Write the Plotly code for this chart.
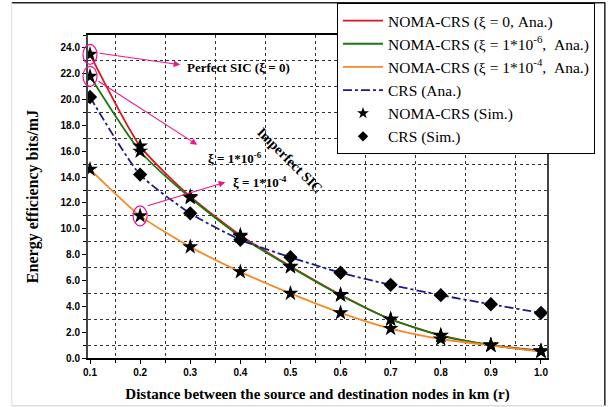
import plotly.graph_objects as go

# ---------------- data ----------------
distance = [0.1, 0.2, 0.3, 0.4, 0.5, 0.6, 0.7, 0.8, 0.9, 1.0]
noma_xi0 = [23.5, 16.4, 12.5, 9.5, 7.1, 4.9, 3.0, 1.75, 1.0, 0.55]
noma_xi6 = [21.8, 16.0, 12.4, 9.4, 7.05, 4.86, 3.0, 1.74, 1.0, 0.54]
noma_xi4 = [14.6, 11.0, 8.6, 6.67, 5.0, 3.5, 2.28, 1.47, 0.97, 0.5]
crs = [20.2, 14.2, 11.2, 9.15, 7.8, 6.6, 5.66, 4.86, 4.16, 3.49]
y_ticks = [0, 2, 4, 6, 8, 10, 12, 14, 16, 18, 20, 22, 24]
x_ticks = [0.1, 0.2, 0.3, 0.4, 0.5, 0.6, 0.7, 0.8, 0.9, 1.0]

XR = [0.096, 1.012]
YR = [0, 25]

SERIF = "Liberation Serif"
SANS = "Liberation Sans"
PINK = "#f0148c"

fig = go.Figure()

line_specs = [
    ("NOMA-CRS (ξ = 0, Ana.)", noma_xi0, "#e0141e", "solid"),
    ("NOMA-CRS (ξ = 1*10<sup>-6</sup>,\u00a0 Ana.)", noma_xi6, "#1a7a10", "solid"),
    ("NOMA-CRS (ξ = 1*10<sup>-4</sup>,\u00a0 Ana.)", noma_xi4, "#f58a28", "solid"),
    ("CRS (Ana.)", crs, "#1a1a8c", "dashdot"),
]
for name, ys, col, dash in line_specs:
    fig.add_trace(go.Scatter(
        x=distance, y=ys, mode="lines", name=name,
        line=dict(color=col, width=1.8, dash=dash, shape="spline", smoothing=0.6),
    ))

star_x = distance + distance + distance
star_y = noma_xi0 + noma_xi6 + noma_xi4
fig.add_trace(go.Scatter(
    x=star_x, y=star_y, mode="markers", name="NOMA-CRS (Sim.)", showlegend=False,
    marker=dict(symbol="star", size=12, color="black", line=dict(width=0)),
))
fig.add_trace(go.Scatter(
    x=distance, y=crs, mode="markers", name="CRS (Sim.)", showlegend=False,
    marker=dict(symbol="diamond", size=11, color="black", line=dict(width=0)),
))
# legend-only entries with smaller symbols (as in the reference legend)
fig.add_trace(go.Scatter(
    x=[None], y=[None], mode="markers", name="NOMA-CRS (Sim.)",
    marker=dict(symbol="star", size=9, color="black", line=dict(width=0)),
))
fig.add_trace(go.Scatter(
    x=[None], y=[None], mode="markers", name="CRS (Sim.)",
    marker=dict(symbol="diamond", size=8, color="black", line=dict(width=0)),
))


def px(xv):
    return (xv - XR[0]) / (XR[1] - XR[0])


def py(yv):
    return (yv - YR[0]) / (YR[1] - YR[0])


shapes = []
# ellipses around highlighted points (paper refs so they are not clipped)
for cx, cy in [(distance[0], noma_xi0[0]), (distance[0], noma_xi6[0]), (distance[1], noma_xi4[1])]:
    shapes.append(dict(type="circle", xref="paper", yref="paper",
                       x0=px(cx) - 7 / 459, x1=px(cx) + 7 / 459,
                       y0=py(cy) - 10 / 323, y1=py(cy) + 10 / 323,
                       line=dict(color=PINK, width=1.2)))
# outer picture frame
shapes += [
    dict(type="line", xref="paper", yref="paper", x0=-0.166, x1=1.127, y0=1.100, y1=1.100,
         line=dict(color="#222", width=1.5)),
    dict(type="line", xref="paper", yref="paper", x0=1.126, x1=1.126, y0=-0.148, y1=1.100,
         line=dict(color="#222", width=1.5)),
    dict(type="line", xref="paper", yref="paper", x0=-0.166, x1=-0.166, y0=-0.148, y1=1.100,
         line=dict(color="#ddd", width=1)),
    dict(type="line", xref="paper", yref="paper", x0=-0.166, x1=1.126, y0=-0.148, y1=-0.148,
         line=dict(color="#ddd", width=1.5)),
]

annotations = []
arrows = [
    # (tail x, tail y, head x, head y)
    (0.116, 23.6, 0.280, 22.7),
    (0.114, 21.5, 0.314, 16.5),
    (0.212, 11.75, 0.370, 13.6),
]
for tx, ty, hx, hy in arrows:
    annotations.append(dict(x=hx, y=hy, ax=tx, ay=ty, xref="x", yref="y", axref="x", ayref="y",
                            text="", showarrow=True, arrowhead=2, arrowsize=1.2, arrowwidth=1.1,
                            arrowcolor=PINK, standoff=0, startstandoff=0))
annotations += [
    dict(x=0.289, y=22.5, xref="x", yref="y", text="<b>Perfect SIC (ξ = 0)</b>", showarrow=False,
         xanchor="left", font=dict(family=SERIF, size=13, color="black")),
    dict(x=0.332, y=15.5, xref="x", yref="y", text="<b>ξ = 1*10<sup>-6</sup></b>", showarrow=False,
         xanchor="left", font=dict(family=SERIF, size=13, color="black")),
    dict(x=0.381, y=13.6, xref="x", yref="y", text="<b>ξ = 1*10<sup>-4</sup></b>", showarrow=False,
         xanchor="left", font=dict(family=SERIF, size=13, color="black")),
    dict(x=0.499, y=15.3, xref="x", yref="y", text="<b>Imperfect SIC</b>", showarrow=False,
         textangle=45, font=dict(family=SERIF, size=14, color="black")),
]

fig.update_layout(
    width=613, height=407,
    margin=dict(l=88, r=66, t=35, b=49, autoexpand=False),
    paper_bgcolor="white", plot_bgcolor="white",
    showlegend=True,
    legend=dict(x=0.5425, y=1.099, xanchor="left", yanchor="top",
                bgcolor="white", bordercolor="black", borderwidth=1,
                font=dict(family=SERIF, size=15.5, color="black"),
                itemwidth=40, tracegroupgap=0),
    shapes=shapes, annotations=annotations,
    xaxis=dict(range=XR, tickmode="array", tickvals=x_ticks, automargin=False,
               ticktext=[f"{v:.1f}" for v in x_ticks],
               showgrid=False, zeroline=False, showline=True, linecolor="black", linewidth=1.5,
               mirror=True, ticks="outside", ticklen=4, tickcolor="black",
               tickfont=dict(family=SANS, size=10, color="black", weight="bold"),
               minor=dict(tick0=0.15, dtick=0.1, showgrid=True, gridcolor="#333",
                          griddash="dot", gridwidth=1, ticks="outside", ticklen=3, tickcolor="black"),
               title=dict(text="<b>Distance between the source and destination nodes in km (r)</b>",
                          font=dict(family=SERIF, size=15, color="black"), standoff=12)),
    yaxis=dict(range=YR, tickmode="array", tickvals=y_ticks, automargin=False,
               ticktext=[f"{v:.1f}" for v in y_ticks],
               showgrid=False, zeroline=False, showline=True, linecolor="#444", linewidth=2,
               mirror=True, ticks="outside", ticklen=4, tickcolor="black",
               tickfont=dict(family=SANS, size=10, color="black", weight="bold"),
               minor=dict(tick0=1, dtick=2, showgrid=True, gridcolor="#333",
                          griddash="dot", gridwidth=1, ticks="outside", ticklen=3, tickcolor="black"),
               title=dict(text="<b>Energy efficiency bits/mJ</b>",
                          font=dict(family=SERIF, size=16, color="black"), standoff=18)),
)

fig.write_html("out.html")
